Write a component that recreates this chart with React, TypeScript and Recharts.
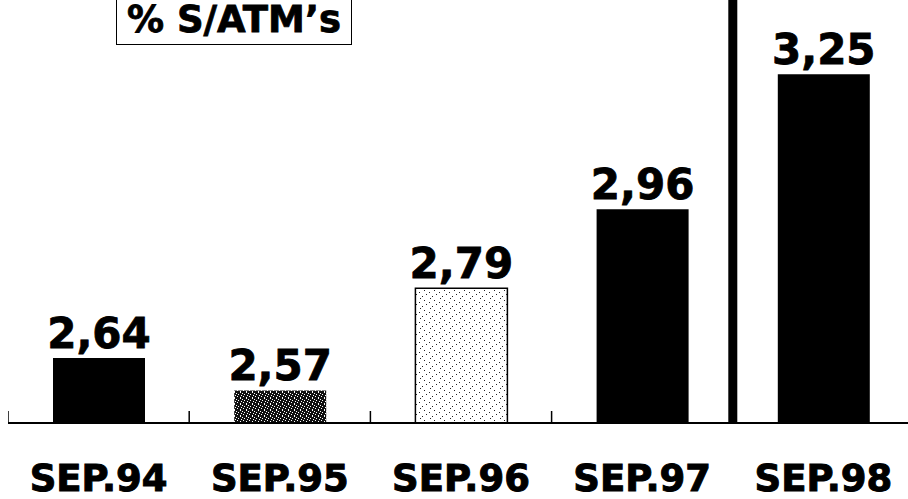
import React from 'react';
import { BarChart, Bar, XAxis, YAxis, Cell, LabelList, ReferenceLine } from 'recharts';

const categories = ['SEP.94', 'SEP.95', 'SEP.96', 'SEP.97', 'SEP.98'];
const values = [2.64, 2.57, 2.79, 2.96, 3.25];
const valueLabels = ['2,64', '2,57', '2,79', '2,96', '3,25'];
const fills = ['#000000', 'url(#darkStipple)', 'url(#lightStipple)', '#000000', '#000000'];
const strokes = ['none', 'none', '#000000', 'none', 'none'];
const title = '% S/ATM’s';
const separatorAt = 'SEP.98';

const data = categories.map((cat, i) => ({
  cat,
  value: values[i],
  label: valueLabels[i],
}));

const FONT = '"DejaVu Sans", Verdana, sans-serif';
const BAND = 906 / categories.length;

function EdgeTick(props: any) {
  const { x, y, payload } = props;
  const half = payload && typeof payload.offset === 'number' && payload.offset > 0 ? payload.offset : BAND / 2;
  return (
    <g>
      <line x1={x - half} x2={x - half} y1={y} y2={y - 12} stroke="#000" strokeWidth={1.5} />
      <text
        x={x}
        y={y + 68}
        textAnchor="middle"
        fontFamily={FONT}
        fontWeight="bold"
        fontSize={37}
        fill="#000"
        stroke="#000"
        strokeWidth={1}
      >
        {payload.value}
      </text>
    </g>
  );
}

export default function App() {
  return (
    <div style={{ position: 'absolute', left: 0, top: 0, width: 908, height: 499, overflow: 'hidden', background: '#fff' }}>
      <div style={{ position: 'absolute', left: 8, top: 0 }}>
        <BarChart width={906} height={499} data={data} margin={{ top: 0, right: 0, bottom: 0, left: 0 }}>
          <defs>
            <pattern id="darkStipple" width="6" height="6" patternUnits="userSpaceOnUse">
              <rect width="6" height="6" fill="#111" />
              <rect x="1" y="0" width="1" height="1" fill="#fff" />
              <rect x="4" y="1" width="1" height="2" fill="#fff" />
              <rect x="0" y="3" width="1" height="1" fill="#fff" />
              <rect x="2" y="4" width="1" height="1" fill="#fff" />
              <rect x="5" y="5" width="1" height="1" fill="#fff" />
            </pattern>
            <pattern id="lightStipple" width="10" height="10" patternUnits="userSpaceOnUse">
              <rect width="10" height="10" fill="#fff" />
              <rect x="1" y="2" width="1" height="1" fill="#222" />
              <rect x="6" y="0" width="1" height="1" fill="#222" />
              <rect x="4" y="6" width="1" height="1" fill="#222" />
              <rect x="8" y="4" width="1" height="1" fill="#222" />
              <rect x="2" y="8" width="1" height="1" fill="#222" />
            </pattern>
          </defs>
          <XAxis
            dataKey="cat"
            height={76}
            interval={0}
            tickLine={false}
            tickSize={0}
            tickMargin={0}
            axisLine={{ stroke: '#000', strokeWidth: 2 }}
            tick={<EdgeTick />}
          />
          <YAxis hide domain={[2.5, 3.41]} allowDataOverflow />
          <Bar dataKey="value" barSize={92} isAnimationActive={false}>
            {data.map((d, i) => (
              <Cell key={d.cat} fill={fills[i]} stroke={strokes[i]} strokeWidth={1.5} />
            ))}
            <LabelList
              dataKey="label"
              position="top"
              offset={10}
              style={{ fontSize: 42, fontWeight: 'bold', fill: '#000', stroke: '#000', strokeWidth: 0.8, fontFamily: FONT }}
            />
          </Bar>
          <ReferenceLine x={separatorAt} position="start" stroke="#000" strokeWidth={9} />
        </BarChart>
      </div>
      <div
        style={{
          position: 'absolute',
          left: 116,
          top: -12,
          width: 236,
          height: 57,
          boxSizing: 'border-box',
          border: '1.5px solid #000',
          background: '#fff',
        }}
      >
        <div
          style={{
            position: 'absolute',
            left: 0,
            right: 0,
            top: 13,
            textAlign: 'center',
            fontFamily: FONT,
            fontWeight: 'bold',
            fontSize: 37,
            lineHeight: '36px',
            color: '#000',
            whiteSpace: 'nowrap',
            WebkitTextStroke: '0.8px #000',
          }}
        >
          {title}
        </div>
      </div>
    </div>
  );
}
